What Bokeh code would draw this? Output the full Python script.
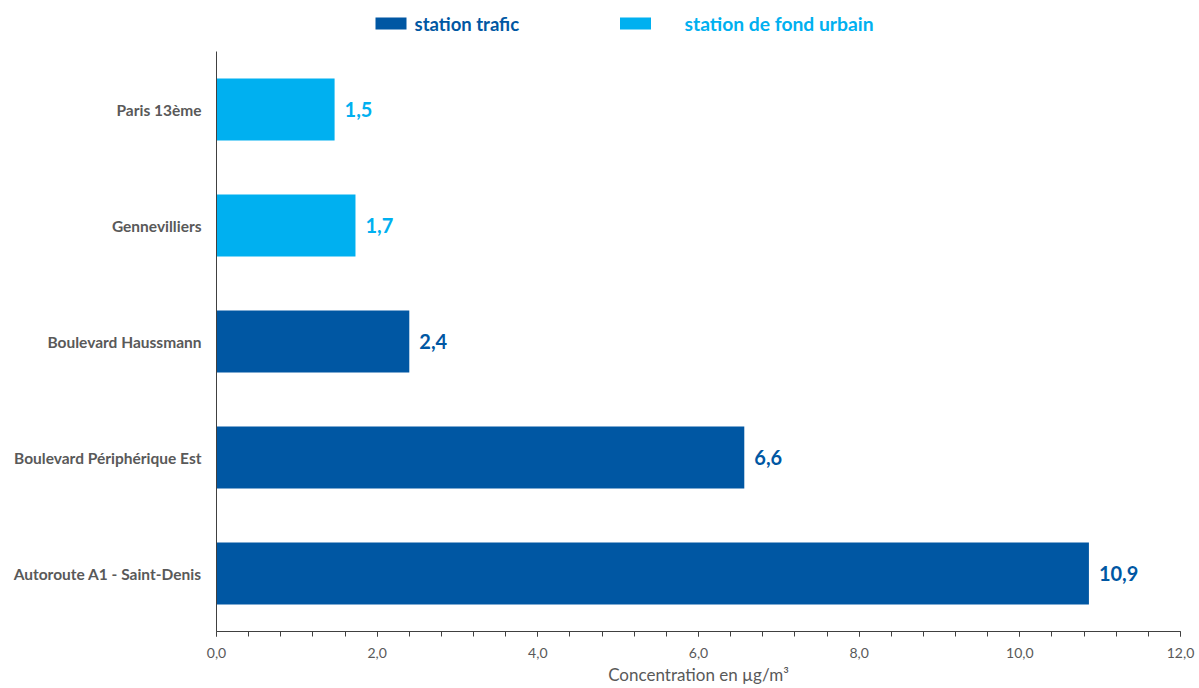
from bokeh.plotting import figure
from bokeh.models import ColumnDataSource, Range1d, FactorRange, FixedTicker
from bokeh.layouts import column
from bokeh.core.properties import value
from bokeh.embed import file_html
from bokeh.resources import INLINE

# Data (bottom to top)
stations = ["Autoroute A1 - Saint-Denis", "Boulevard Périphérique Est",
            "Boulevard Haussmann", "Gennevilliers", "Paris 13ème"]
concentrations = [10.86, 6.57, 2.40, 1.73, 1.47]
station_types = ["station trafic", "station trafic", "station trafic",
                 "station de fond urbain", "station de fond urbain"]
type_names = ["station trafic", "station de fond urbain"]
type_colors = {"station trafic": "#0057A3", "station de fond urbain": "#00B0F0"}
x_ticks = [0, 2, 4, 6, 8, 10, 12]
x_axis_title = "Concentration en µg/m³"

FONT = "Lato"
GRAY = "#595959"

def fr(v):
    return f"{v:.1f}".replace(".", ",")

src = ColumnDataSource(dict(
    station=stations,
    val=concentrations,
    color=[type_colors[t] for t in station_types],
    label=[fr(v) for v in concentrations],
))

# ---- legend figure (frame aligned with main frame: 216..1180 px) ----
leg = figure(width=1199, height=45, x_range=Range1d(216, 1180), y_range=Range1d(45, 0),
             output_backend="svg", toolbar_location=None,
             min_border_left=216, min_border_right=19,
             min_border_top=0, min_border_bottom=0)
leg.axis.visible = False
leg.grid.visible = False
leg.outline_line_color = None
leg_src = ColumnDataSource(dict(
    name=type_names,
    color=[type_colors[t] for t in type_names],
    px=[390.5, 635],
    tx=[414, 684],
    fs=["18.5px", "19.3px"],
))
leg.rect(x="px", y=23, width=31, height=12, fill_color="color", line_color=None, source=leg_src)
leg.text(x="tx", y=23, text="name", text_color="color", text_font=value(FONT),
         text_font_style="bold", text_font_size="fs", text_baseline="middle",
         source=leg_src)

# ---- main figure ----
p = figure(width=1199, height=643, y_range=FactorRange(*stations), x_range=Range1d(0, 12),
           output_backend="svg", toolbar_location=None,
           min_border_left=216, min_border_right=19, min_border_top=6, min_border_bottom=57)
p.hbar(y="station", right="val", left=0, height=0.535, fill_color="color",
       line_color=None, source=src)
p.text(x="val", y="station", text="label", text_color="color", x_offset=10,
       text_font=value(FONT), text_font_style="bold", text_font_size="20px",
       text_baseline="middle", source=src)

p.grid.visible = False
p.outline_line_color = None

xa = p.xaxis[0]
xa.ticker = FixedTicker(ticks=x_ticks, minor_ticks=[i * 0.4 for i in range(31)])
xa.major_label_overrides = {t: fr(t) for t in x_ticks}
xa.major_label_text_font = FONT
xa.major_label_text_font_size = "14px"
xa.major_label_text_color = GRAY
xa.axis_label = x_axis_title
xa.axis_label_text_font = FONT
xa.axis_label_text_font_size = "17px"
xa.axis_label_text_font_style = "normal"
xa.axis_label_text_color = GRAY
xa.axis_line_color = "#404040"
xa.major_tick_line_color = "#404040"
xa.minor_tick_line_color = "#404040"
xa.major_tick_out = 5
xa.major_tick_in = 0
xa.minor_tick_out = 5
xa.minor_tick_in = 0
xa.major_label_standoff = 11
xa.axis_label_standoff = 3

ya = p.yaxis[0]
ya.major_label_text_font = FONT
ya.major_label_text_font_size = "15.5px"
ya.major_label_text_font_style = "bold"
ya.major_label_text_color = GRAY
ya.axis_line_color = "#404040"
ya.major_tick_line_color = None
ya.minor_tick_line_color = None
ya.major_tick_out = 0
ya.major_label_standoff = 15

layout = column(leg, p, spacing=0)
open("out.html", "w").write(file_html(layout, INLINE))
